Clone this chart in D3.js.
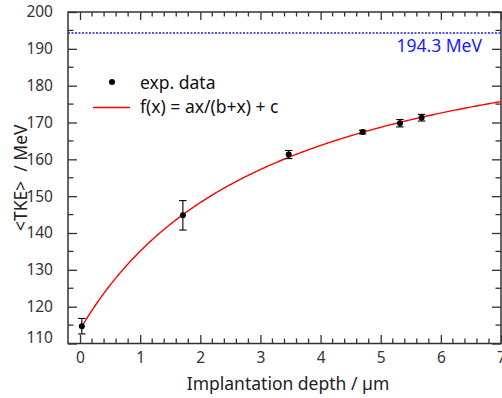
<!DOCTYPE html>
<html>
<head>
<meta charset="utf-8">
<script src="https://cdn.jsdelivr.net/npm/d3@7"></script>
<style>
  body { margin: 0; background: #fff; }
  text { font-family: "Noto Sans", sans-serif; }
</style>
</head>
<body>
<div id="chart"></div>
<script>
// measured points: implantation depth (um), <TKE> (MeV), error (MeV)
const depth = [0.03, 1.71, 3.47, 4.70, 5.32, 5.68];
const tke = [114.7, 144.8, 161.3, 167.4, 169.8, 171.3];
const tkeErr = [2.1, 4.0, 1.1, 0.5, 1.0, 0.9];

// fit f(x) = a*x/(b+x) + c
const fitParams = [90.8, 3.27, 113.8];
const fitRange = [0.03, 7.2];

const refLevel = 194.3;
const refLabel = "194.3 MeV";

const xTicks = [0, 1, 2, 3, 4, 5, 6, 7];
const yTicks = [110, 120, 130, 140, 150, 160, 170, 180, 190, 200];

const w = 502;
const h = 398;
const margin = {top: 12, right: 1, bottom: 54.5, left: 68};
const iw = w - margin.left - margin.right;
const ih = h - margin.top - margin.bottom;

const xScale = d3.scaleLinear().domain([-0.2, 7]).range([0, iw]);
const yScale = d3.scaleLinear().domain([110, 200]).range([ih, 0]);

const svg = d3.select("#chart")
    .append("svg")
    .attr("width", w)
    .attr("height", h);

const g = svg.append("g")
    .attr("transform", `translate(${margin.left},${margin.top})`);

const axisColor = "#333";
const xMinor = d3.range(0, 7.01, 0.2).filter(v => Math.abs(v - Math.round(v)) > 1e-6);
const yMinor = d3.range(115, 200, 10);

function styleAxis(sel) {
    sel.select(".domain").remove();
    sel.selectAll(".tick line").attr("stroke", axisColor).attr("stroke-width", 1.3);
    sel.selectAll(".tick text")
        .attr("fill", "#333")
        .attr("font-size", "15.5px");
}

// bottom axis, ticks pointing inward
const axBottom = g.append("g").attr("transform", `translate(0,${ih})`);
axBottom.call(d3.axisBottom(xScale).tickValues(xTicks).tickSize(-8.5).tickPadding(0).tickFormat(d3.format("d")));
styleAxis(axBottom);
axBottom.selectAll(".tick text").attr("y", 19).attr("dy", 0);
axBottom.selectAll(".minor")
    .data(xMinor).enter().append("line")
    .attr("x1", d => xScale(d)).attr("x2", d => xScale(d))
    .attr("y1", 0).attr("y2", -5)
    .attr("stroke", axisColor).attr("stroke-width", 1.3);

// top axis
const axTop = g.append("g");
axTop.call(d3.axisTop(xScale).tickValues(xTicks).tickSize(-8).tickFormat(""));
styleAxis(axTop);
axTop.selectAll(".minor")
    .data(xMinor).enter().append("line")
    .attr("x1", d => xScale(d)).attr("x2", d => xScale(d))
    .attr("y1", 0).attr("y2", 4.5)
    .attr("stroke", axisColor).attr("stroke-width", 1.3);

// left axis
const axLeft = g.append("g");
axLeft.call(d3.axisLeft(yScale).tickValues(yTicks).tickSize(-9).tickPadding(15));
styleAxis(axLeft);
axLeft.selectAll(".tick text").filter(d => d === 110).attr("dy", "-0.05em");
axLeft.selectAll(".minor")
    .data(yMinor).enter().append("line")
    .attr("y1", d => yScale(d)).attr("y2", d => yScale(d))
    .attr("x1", 0).attr("x2", 5.5)
    .attr("stroke", axisColor).attr("stroke-width", 1.3);

// right axis
const axRight = g.append("g").attr("transform", `translate(${iw},0)`);
axRight.call(d3.axisRight(yScale).tickValues(yTicks).tickSize(-9).tickFormat(""));
styleAxis(axRight);
axRight.selectAll(".minor")
    .data(yMinor).enter().append("line")
    .attr("y1", d => yScale(d)).attr("y2", d => yScale(d))
    .attr("x1", 0).attr("x2", -5.5)
    .attr("stroke", axisColor).attr("stroke-width", 1.3);

// frame
g.append("rect")
    .attr("width", iw).attr("height", ih)
    .attr("fill", "none")
    .attr("stroke", axisColor)
    .attr("stroke-width", 1.5);

// reference level
g.append("line")
    .attr("x1", 0).attr("x2", iw)
    .attr("y1", yScale(refLevel)).attr("y2", yScale(refLevel))
    .attr("stroke", "#1a1aff")
    .attr("stroke-width", 1.4)
    .attr("stroke-dasharray", "2,1.5");
g.append("text")
    .attr("x", iw - 19)
    .attr("y", yScale(refLevel) + 19.5)
    .attr("text-anchor", "end")
    .attr("fill", "#1a1aff")
    .attr("font-size", "17.5px")
    .text(refLabel);

// fit curve
const [a, b, c] = fitParams;
const fitX = d3.range(fitRange[0], fitRange[1], 0.02);
g.append("clipPath").attr("id", "plotclip")
    .append("rect").attr("width", iw).attr("height", ih);
g.append("path")
    .datum(fitX)
    .attr("clip-path", "url(#plotclip)")
    .attr("fill", "none")
    .attr("stroke", "#ff0000")
    .attr("stroke-width", 1.4)
    .attr("d", d3.line()
        .x(d => xScale(d))
        .y(d => yScale(a * d / (b + d) + c)));

// error bars
const points = depth.map((d, i) => ({x: d, y: tke[i], e: tkeErr[i]}));
const eb = g.selectAll(".err").data(points).enter().append("g");
eb.append("line")
    .attr("x1", d => xScale(d.x)).attr("x2", d => xScale(d.x))
    .attr("y1", d => yScale(d.y - d.e)).attr("y2", d => yScale(d.y + d.e))
    .attr("stroke", "#000").attr("stroke-width", 1.1);
[-1, 1].forEach(s => {
    eb.append("line")
        .attr("x1", d => xScale(d.x) - 3.7).attr("x2", d => xScale(d.x) + 3.7)
        .attr("y1", d => yScale(d.y + s * d.e)).attr("y2", d => yScale(d.y + s * d.e))
        .attr("stroke", "#000").attr("stroke-width", 1.1);
});
g.selectAll("circle.pt").data(points).enter().append("circle")
    .attr("cx", d => xScale(d.x))
    .attr("cy", d => yScale(d.y))
    .attr("r", 3)
    .attr("fill", "#000");

// legend
const legend = svg.append("g");
legend.append("circle").attr("cx", 112).attr("cy", 82).attr("r", 3).attr("fill", "#000");
legend.append("text").attr("x", 140).attr("y", 89).attr("font-size", "17.5px").attr("fill", "#111").text("exp. data");
legend.append("line").attr("x1", 93).attr("x2", 130).attr("y1", 107.5).attr("y2", 107.5)
    .attr("stroke", "#ff0000").attr("stroke-width", 1.4);
legend.append("text").attr("x", 140).attr("y", 113).attr("font-size", "17.5px").attr("fill", "#111").text("f(x) = ax/(b+x) + c");

// axis titles
svg.append("text")
    .attr("x", 288)
    .attr("y", 390)
    .attr("text-anchor", "middle")
    .attr("font-size", "17.5px")
    .attr("fill", "#222")
    .text("Implantation depth / µm");
svg.append("text")
    .attr("transform", `translate(27,${margin.top + ih / 2}) rotate(-90)`)
    .attr("text-anchor", "middle")
    .attr("font-size", "17.5px")
    .attr("fill", "#222")
    .attr("xml:space", "preserve")
    .style("white-space", "pre")
    .text("<TKE>  / MeV");
</script>
</body>
</html>
